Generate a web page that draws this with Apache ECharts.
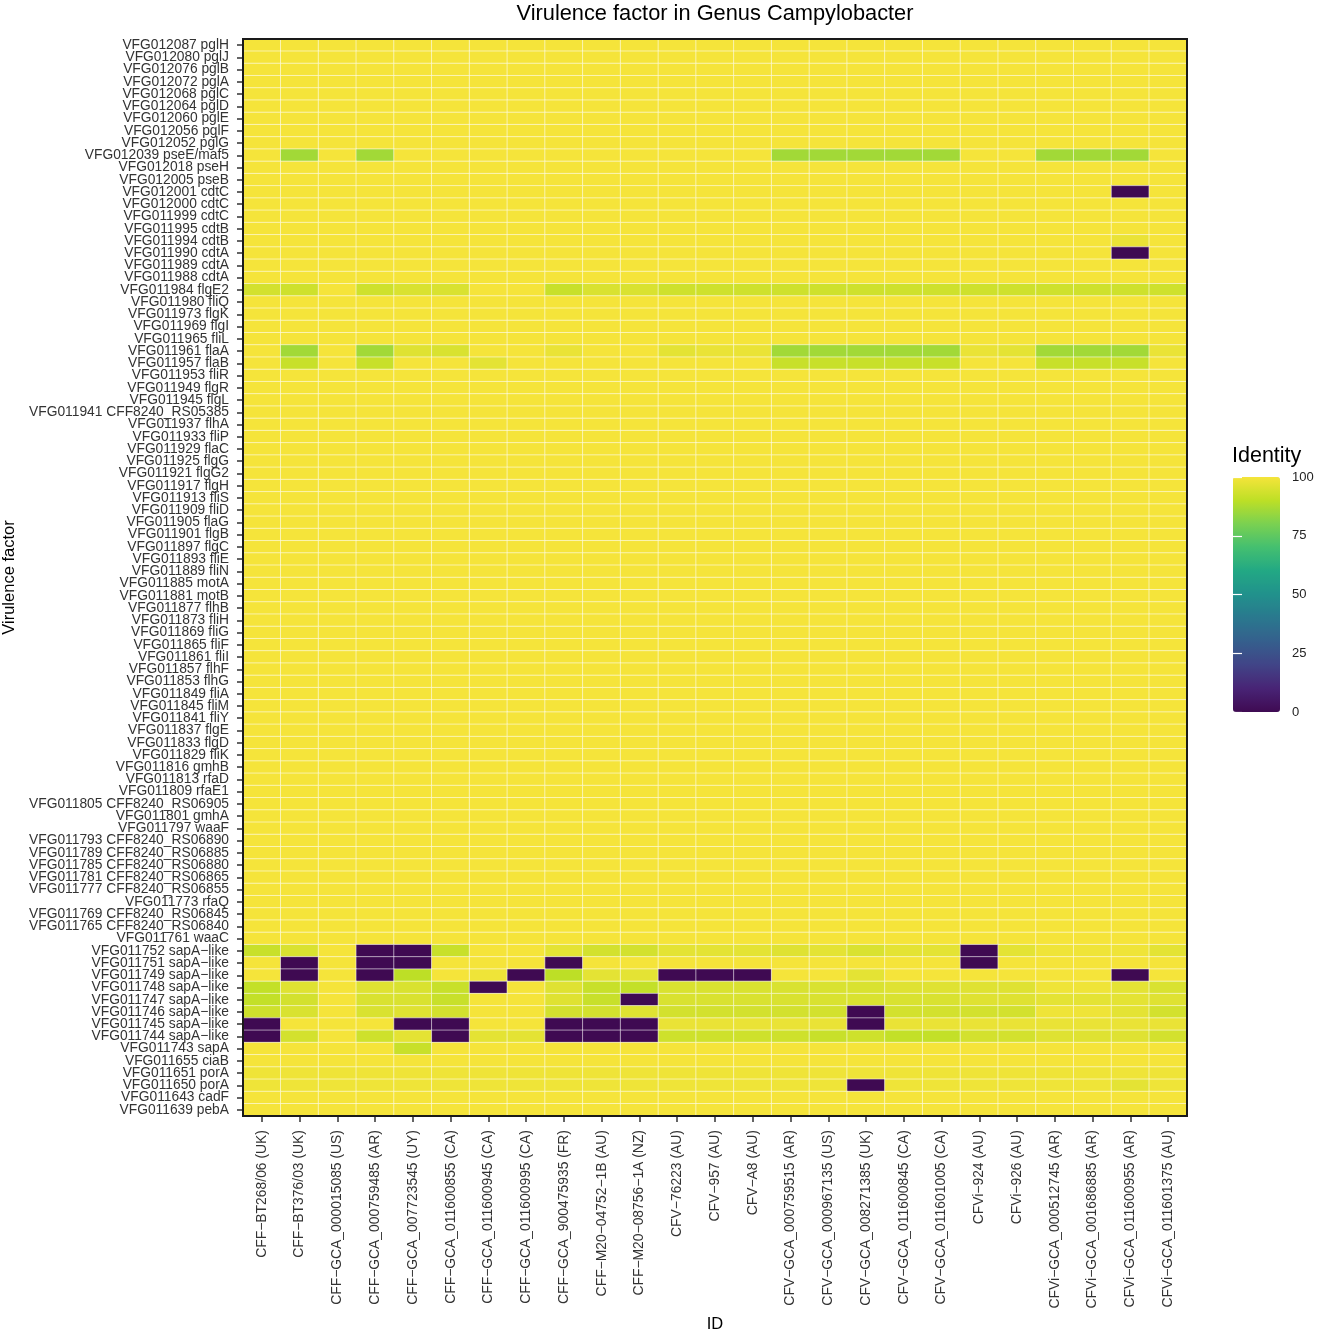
<!DOCTYPE html>
<html>
<head>
<meta charset="utf-8">
<title>Virulence factor in Genus Campylobacter</title>
<script src="https://cdn.jsdelivr.net/npm/echarts@6/dist/echarts.min.js"></script>
<style>
html, body { margin: 0; padding: 0; background: #fff; }
#chart { width: 1318px; height: 1330px; }
</style>
</head>
<body>
<div id="chart"></div>
<script>
// genomes on the x axis
var ids = [
    'CFF−BT268/06 (UK)', 'CFF−BT376/03 (UK)', 'CFF−GCA_000015085 (US)', 'CFF−GCA_000759485 (AR)',
    'CFF−GCA_007723545 (UY)', 'CFF−GCA_011600855 (CA)', 'CFF−GCA_011600945 (CA)', 'CFF−GCA_011600995 (CA)',
    'CFF−GCA_900475935 (FR)', 'CFF−M20−04752−1B (AU)', 'CFF−M20−08756−1A (NZ)', 'CFV−76223 (AU)',
    'CFV−957 (AU)', 'CFV−A8 (AU)', 'CFV−GCA_000759515 (AR)', 'CFV−GCA_000967135 (US)',
    'CFV−GCA_008271385 (UK)', 'CFV−GCA_011600845 (CA)', 'CFV−GCA_011601005 (CA)', 'CFVi−924 (AU)',
    'CFVi−926 (AU)', 'CFVi−GCA_000512745 (AR)', 'CFVi−GCA_001686885 (AR)', 'CFVi−GCA_011600955 (AR)',
    'CFVi−GCA_011601375 (AU)'
]

// virulence factors, top to bottom
var factors = [
    'VFG012087 pglH', 'VFG012080 pglJ', 'VFG012076 pglB', 'VFG012072 pglA', 'VFG012068 pglC',
    'VFG012064 pglD', 'VFG012060 pglE', 'VFG012056 pglF', 'VFG012052 pglG',
    'VFG012039 pseE/maf5', 'VFG012018 pseH', 'VFG012005 pseB',
    'VFG012001 cdtC', 'VFG012000 cdtC', 'VFG011999 cdtC', 'VFG011995 cdtB', 'VFG011994 cdtB',
    'VFG011990 cdtA', 'VFG011989 cdtA', 'VFG011988 cdtA',
    'VFG011984 flgE2', 'VFG011980 fliQ', 'VFG011973 flgK', 'VFG011969 flgI', 'VFG011965 fliL',
    'VFG011961 flaA', 'VFG011957 flaB', 'VFG011953 fliR', 'VFG011949 flgR', 'VFG011945 flgL',
    'VFG011941 CFF8240_RS05385', 'VFG011937 flhA', 'VFG011933 fliP', 'VFG011929 flaC', 'VFG011925 flgG',
    'VFG011921 flgG2', 'VFG011917 flgH', 'VFG011913 fliS', 'VFG011909 fliD', 'VFG011905 flaG',
    'VFG011901 flgB', 'VFG011897 flgC', 'VFG011893 fliE', 'VFG011889 fliN', 'VFG011885 motA',
    'VFG011881 motB', 'VFG011877 flhB', 'VFG011873 fliH', 'VFG011869 fliG', 'VFG011865 fliF',
    'VFG011861 fliI', 'VFG011857 flhF', 'VFG011853 flhG', 'VFG011849 fliA', 'VFG011845 fliM',
    'VFG011841 fliY', 'VFG011837 flgE', 'VFG011833 flgD', 'VFG011829 fliK',
    'VFG011816 gmhB', 'VFG011813 rfaD', 'VFG011809 rfaE1', 'VFG011805 CFF8240_RS06905', 'VFG011801 gmhA',
    'VFG011797 waaF', 'VFG011793 CFF8240_RS06890', 'VFG011789 CFF8240_RS06885', 'VFG011785 CFF8240_RS06880',
    'VFG011781 CFF8240_RS06865', 'VFG011777 CFF8240_RS06855', 'VFG011773 rfaQ', 'VFG011769 CFF8240_RS06845',
    'VFG011765 CFF8240_RS06840', 'VFG011761 waaC',
    'VFG011752 sapA−like', 'VFG011751 sapA−like', 'VFG011749 sapA−like', 'VFG011748 sapA−like',
    'VFG011747 sapA−like', 'VFG011746 sapA−like', 'VFG011745 sapA−like', 'VFG011744 sapA−like',
    'VFG011743 sapA',
    'VFG011655 ciaB', 'VFG011651 porA', 'VFG011650 porA', 'VFG011643 cadF', 'VFG011639 pebA'
]

// identity (%) per factor row, one value per genome column
var identityPgl = [
    [100,100,100,100,100, 100,100,100,100,100, 100,100,100,100,100, 100,100,100,100,100, 100,100,100,100,100],
    [100,100,100,100,100, 100,100,100,100,100, 100,100,100,100,100, 100,100,100,100,100, 100,100,100,100,100],
    [100,100,100,100,100, 100,100,100,100,100, 100,100,100,100,100, 100,100,100,100,100, 100,100,100,100,100],
    [100,100,100,100,100, 100,100,100,100,100, 100,100,100,100,100, 100,100,100,100,100, 100,100,100,100,100],
    [100,100,100,100,100, 100,100,100,100,100, 100,100,100,100,100, 100,100,100,100,100, 100,100,100,100,100],
    [100,100,100,100,100, 100,100,100,100,100, 100,100,100,100,100, 100,100,100,100,100, 100,100,100,100,100],
    [100,100,100,100,100, 100,100,100,100,100, 100,100,100,100,100, 100,100,100,100,100, 100,100,100,100,100],
    [100,100,100,100,100, 100,100,100,100,100, 100,100,100,100,100, 100,100,100,100,100, 100,100,100,100,100],
    [100,100,100,100,100, 100,100,100,100,100, 100,100,100,100,100, 100,100,100,100,100, 100,100,100,100,100]
]
var identityPse = [
    [100,86,100,86,100, 100,100,100,100,100, 100,100,100,100,86, 86,86,86,86,100, 100,86,86,86,100],
    [100,100,100,100,100, 100,100,100,100,100, 100,100,100,100,100, 100,100,100,100,100, 100,100,100,100,100],
    [100,100,100,100,100, 100,100,100,100,100, 100,100,100,100,100, 100,100,100,100,100, 100,100,100,100,100]
]
var identityCdt = [
    [100,100,100,100,100, 100,100,100,100,100, 100,100,100,100,100, 100,100,100,100,100, 100,100,100,0,100],
    [100,100,100,100,100, 100,100,100,100,100, 100,100,100,100,100, 100,100,100,100,100, 100,100,100,100,100],
    [100,100,100,100,100, 100,100,100,100,100, 100,100,100,100,100, 100,100,100,100,100, 100,100,100,100,100],
    [100,100,100,100,100, 100,100,100,100,100, 100,100,100,100,100, 100,100,100,100,100, 100,100,100,100,100],
    [100,100,100,100,100, 100,100,100,100,100, 100,100,100,100,100, 100,100,100,100,100, 100,100,100,98,100],
    [100,100,100,100,100, 100,100,100,100,100, 100,100,100,100,100, 100,100,100,100,100, 100,100,100,0,100],
    [100,100,100,100,100, 100,100,100,100,100, 100,100,100,100,100, 100,100,100,100,100, 100,100,100,100,100],
    [100,100,100,100,100, 100,100,100,100,100, 100,100,100,100,100, 100,100,100,100,100, 100,100,100,100,100]
]
var identityFlagella = [
    [94,93,100,93,95, 95,100,100,92,95, 95,93,93,93,93, 93,93,93,93,93, 93,93,93,93,93],
    [100,100,100,100,100, 100,100,100,100,100, 100,100,100,100,100, 100,100,100,100,100, 100,100,100,100,100],
    [100,100,100,100,100, 100,100,100,100,100, 100,100,100,100,100, 100,100,100,100,100, 100,100,100,100,100],
    [100,100,100,100,100, 100,100,100,100,100, 100,100,100,100,100, 100,100,100,100,100, 100,100,100,100,100],
    [100,100,100,100,100, 100,100,100,100,100, 100,100,100,100,100, 100,100,100,100,100, 100,100,100,100,100],
    [100,86,100,86,96, 95,100,100,98,100, 100,97,98,98,86, 86,86,86,86,98, 97,86,86,86,98],
    [100,92,100,92,100, 100,97,100,100,100, 100,100,100,100,92, 92,92,92,92,100, 100,92,92,92,100],
    [100,100,100,100,100, 100,100,100,100,100, 100,100,100,100,100, 100,100,100,100,100, 100,100,100,100,100],
    [100,100,100,100,100, 100,100,100,100,100, 100,100,100,100,100, 100,100,100,100,100, 100,100,100,100,100],
    [100,100,100,100,100, 100,100,100,100,100, 100,100,100,100,100, 100,100,100,100,100, 100,100,100,100,100],
    [100,100,100,100,100, 100,100,100,100,100, 100,100,100,100,100, 100,100,100,100,100, 100,100,100,100,100],
    [100,100,100,100,100, 100,100,100,100,100, 100,100,100,100,100, 100,100,100,100,100, 100,100,100,100,100],
    [100,100,100,100,100, 100,100,100,100,100, 100,100,100,100,100, 100,100,100,100,100, 100,100,100,100,100],
    [100,100,100,100,100, 100,100,100,100,100, 100,100,100,100,100, 100,100,100,100,100, 100,100,100,100,100],
    [100,100,100,100,100, 100,100,100,100,100, 100,100,100,100,100, 100,100,100,100,100, 100,100,100,100,100],
    [100,100,100,100,100, 100,100,100,100,100, 100,100,100,100,100, 100,100,100,100,100, 100,100,100,100,100],
    [100,100,100,100,100, 100,100,100,100,100, 100,100,100,100,100, 100,100,100,100,100, 100,100,100,100,100],
    [100,100,100,100,100, 100,100,100,100,100, 100,100,100,100,100, 100,100,100,100,100, 100,100,100,100,100],
    [100,100,100,100,100, 100,100,100,100,100, 100,100,100,100,100, 100,100,100,100,100, 100,100,100,100,100],
    [100,100,100,100,100, 100,100,100,100,100, 100,100,100,100,100, 100,100,100,100,100, 100,100,100,100,100],
    [100,100,100,100,100, 100,100,100,100,100, 100,100,100,100,100, 100,100,100,100,100, 100,100,100,100,100],
    [100,100,100,100,100, 100,100,100,100,100, 100,100,100,100,100, 100,100,100,100,100, 100,100,100,100,100],
    [100,100,100,100,100, 100,100,100,100,100, 100,100,100,100,100, 100,100,100,100,100, 100,100,100,100,100],
    [100,100,100,100,100, 100,100,100,100,100, 100,100,100,100,100, 100,100,100,100,100, 100,100,100,100,100],
    [100,100,100,100,100, 100,100,100,100,100, 100,100,100,100,100, 100,100,100,100,100, 100,100,100,100,100],
    [100,100,100,100,100, 100,100,100,100,100, 100,100,100,100,100, 100,100,100,100,100, 100,100,100,100,100],
    [100,100,100,100,100, 100,100,100,100,100, 100,100,100,100,100, 100,100,100,100,100, 100,100,100,100,100],
    [100,100,100,100,100, 100,100,100,100,100, 100,100,100,100,100, 100,100,100,100,100, 100,100,100,100,100],
    [100,100,100,100,100, 100,100,100,100,100, 100,100,100,100,100, 100,100,100,100,100, 100,100,100,100,100],
    [100,100,100,100,100, 100,100,100,100,100, 100,100,100,100,100, 100,100,100,100,100, 100,100,100,100,100],
    [100,100,100,100,100, 100,100,100,100,100, 100,100,100,100,100, 100,100,100,100,100, 100,100,100,100,100],
    [100,100,100,100,100, 100,100,100,100,100, 100,100,100,100,100, 100,100,100,100,100, 100,100,100,100,100],
    [100,100,100,100,100, 100,100,100,100,100, 100,100,100,100,100, 100,100,100,100,100, 100,100,100,100,100],
    [100,100,100,100,100, 100,100,100,100,100, 100,100,100,100,100, 100,100,100,100,100, 100,100,100,100,100],
    [100,100,100,100,100, 100,100,100,100,100, 100,100,100,100,100, 100,100,100,100,100, 100,100,100,100,100],
    [100,100,100,100,100, 100,100,100,100,100, 100,100,100,100,100, 100,100,100,100,100, 100,100,100,100,100],
    [100,100,100,100,100, 100,100,100,100,100, 100,100,100,100,100, 100,100,100,100,100, 100,100,100,100,100],
    [100,100,100,100,100, 100,100,100,100,100, 100,100,100,100,100, 100,100,100,100,100, 100,100,100,100,100],
    [100,100,100,100,100, 100,100,100,100,100, 100,100,100,100,100, 100,100,100,100,100, 100,100,100,100,100]
]
var identityLos = [
    [100,100,100,100,100, 100,100,100,100,100, 100,100,100,100,100, 100,100,100,100,100, 100,100,100,100,100],
    [100,100,100,100,100, 100,100,100,100,100, 100,100,100,100,100, 100,100,100,100,100, 100,100,100,100,100],
    [100,100,100,100,100, 100,100,100,100,100, 100,100,100,100,100, 100,100,100,100,100, 100,100,100,100,100],
    [100,100,100,100,100, 100,100,100,100,100, 100,100,100,100,100, 100,100,100,100,100, 100,100,100,100,100],
    [100,100,100,100,100, 100,100,100,100,100, 100,100,100,100,100, 100,100,100,100,100, 100,100,100,100,100],
    [100,100,100,100,100, 100,100,100,100,100, 100,100,100,100,100, 100,100,100,100,100, 100,100,100,100,100],
    [100,100,100,100,100, 100,100,100,100,100, 100,100,100,100,100, 100,100,100,100,100, 100,100,100,100,100],
    [100,100,100,100,100, 100,100,100,100,100, 100,100,100,100,100, 100,100,100,100,100, 100,100,100,100,100],
    [100,100,100,100,100, 100,100,100,100,100, 100,100,100,100,100, 100,100,100,100,100, 100,100,100,100,100],
    [100,100,100,100,100, 100,100,100,100,100, 100,100,100,100,100, 100,100,100,100,100, 100,100,100,100,100],
    [100,100,100,100,100, 100,100,100,100,100, 100,100,100,100,100, 100,100,100,100,100, 100,100,100,100,100],
    [100,100,100,100,100, 100,100,100,100,100, 100,100,100,100,100, 100,100,100,100,100, 100,100,100,100,100],
    [100,100,100,100,100, 100,100,100,100,100, 100,100,100,100,100, 100,100,100,100,100, 100,100,100,100,100],
    [100,100,100,100,100, 100,100,100,100,100, 100,100,100,100,100, 100,100,100,100,100, 100,100,100,100,100],
    [100,100,100,100,100, 100,100,100,100,100, 100,100,100,100,100, 100,100,100,100,100, 100,100,100,100,100]
]
var identitySap = [
    [92,95,100,0,0, 92,100,100,97,94, 94,97,97,97,96, 97,95,97,97,0, 97,99,99,99,97],
    [100,0,100,0,0, 100,100,100,0,100, 100,100,100,100,100, 100,100,100,100,0, 100,100,100,100,100],
    [100,0,100,0,90, 100,99,0,90,97, 97,0,0,0,100, 100,97,100,100,100, 100,100,100,0,100],
    [91,96,100,96,95, 92,0,100,96,92, 91,95,95,95,95, 95,95,96,96,96, 96,99,99,97,95],
    [91,94,100,95,95, 92,100,100,96,92, 0,95,95,95,95, 95,95,95,95,96, 96,97,97,97,96],
    [93,95,100,95,96, 94,100,100,94,94, 96,94,94,94,94, 94,0,94,94,94, 94,99,99,97,94],
    [0,100,100,100,0, 0,100,100,0,0, 0,98,98,98,98, 98,0,98,98,98, 98,98,98,98,98],
    [0,94,100,93,97, 0,97,97,0,0, 0,93,93,93,93, 92,93,91,91,94, 94,96,96,96,94],
    [100,100,100,100,92, 100,100,100,100,100, 100,100,100,100,100, 100,100,100,100,100, 100,100,100,100,100]
]
var identityOther = [
    [100,100,100,100,100, 100,100,100,100,100, 100,100,100,100,100, 100,100,100,100,100, 100,100,100,100,100],
    [99,99,99,99,99, 99,99,99,99,99, 99,99,99,99,99, 99,99,99,99,99, 99,99,99,99,99],
    [99,99,99,99,99, 99,99,99,99,99, 99,99,99,99,99, 99,0,99,99,99, 99,99,99,97,99],
    [100,100,100,100,100, 100,100,100,100,100, 100,100,100,100,100, 100,100,100,100,100, 100,100,100,100,100],
    [100,100,100,100,100, 100,100,100,100,100, 100,100,100,100,100, 100,100,100,100,100, 100,100,100,100,100]
]

// colour bar range and breaks
var identityMin = 0
var identityMax = 100
var identityStep = 25

var viridis = ['#3f0a52', '#482475', '#414487', '#355f8d', '#2a788e', '#21918c',
    '#22a884', '#44bf70', '#7ad151', '#bddf26', '#f5e43a']

var FONT = '"Liberation Sans", Arial, Helvetica, sans-serif'

var identity = identityPgl.concat( identityPse, identityCdt, identityFlagella, identityLos, identitySap, identityOther )
var cells = []
for ( var r = 0; r < identity.length; r++ ) {
    for ( var c = 0; c < identity[r].length; c++ ) {
        cells.push( [c, r, identity[r][c]] )
    }
}

var chart = echarts.init( document.getElementById( 'chart' ), null, { renderer: 'canvas' } )
chart.setOption( {
    animation: false,
    backgroundColor: '#ffffff',
    title: [{
        text: 'Virulence factor in Genus Campylobacter',
        left: 715,
        top: 3,
        textAlign: 'center',
        padding: 0,
        textStyle: { fontFamily: FONT, fontSize: 21.8, fontWeight: 'normal', color: '#000' }
    }, {
        text: 'Identity',
        left: 1232,
        top: 445,
        padding: 0,
        textStyle: { fontFamily: FONT, fontSize: 21.5, fontWeight: 'normal', color: '#000' }
    }],
    grid: [{
        left: 243, right: 131, top: 39, bottom: 214,
        containLabel: false,
        outerBoundsMode: 'none',
        show: true,
        z: 3,
        backgroundColor: 'transparent',
        borderColor: '#1a1a1a',
        borderWidth: 2
    }, {
        left: 1233, top: 477, width: 47, height: 235,
        outerBoundsMode: 'none',
        show: false
    }],
    xAxis: [{
        type: 'category',
        gridIndex: 0,
        data: ids,
        name: 'ID',
        nameLocation: 'middle',
        nameGap: 198,
        nameTextStyle: { fontFamily: FONT, fontSize: 16.5, color: '#000' },
        axisLine: { show: false },
        axisTick: { show: true, alignWithLabel: true, length: 6, lineStyle: { color: '#333', width: 1.5 } },
        axisLabel: { interval: 0, rotate: 90, margin: 14, fontFamily: FONT, fontSize: 13.9, color: '#333' },
        splitLine: { show: false }
    }, {
        type: 'value',
        gridIndex: 1,
        show: false,
        min: 0,
        max: 1
    }],
    yAxis: [{
        type: 'category',
        gridIndex: 0,
        data: factors,
        inverse: true,
        name: 'Virulence factor',
        nameLocation: 'middle',
        nameGap: 225,
        nameTextStyle: { fontFamily: FONT, fontSize: 16.5, color: '#000' },
        axisLine: { show: false },
        axisTick: { show: true, alignWithLabel: true, length: 6, lineStyle: { color: '#333', width: 1.5 } },
        axisLabel: { interval: 0, margin: 14, fontFamily: FONT, fontSize: 13.8, color: '#333' },
        splitLine: { show: false }
    }, {
        type: 'value',
        gridIndex: 1,
        position: 'right',
        min: identityMin,
        max: identityMax,
        interval: identityStep,
        z: 10,
        axisLine: { show: false },
        axisTick: { show: true, inside: true, length: 9, lineStyle: { color: '#fff', width: 1.2 } },
        axisLabel: { margin: 12, showMinLabel: true, showMaxLabel: true, fontFamily: FONT, fontSize: 13, color: '#222' },
        splitLine: { show: false }
    }, {
        type: 'value',
        gridIndex: 1,
        position: 'left',
        min: identityMin,
        max: identityMax,
        interval: identityStep,
        z: 10,
        axisLine: { show: false },
        axisTick: { show: true, inside: true, length: 9, lineStyle: { color: '#fff', width: 1.2 } },
        axisLabel: { show: false },
        splitLine: { show: false }
    }],
    visualMap: {
        type: 'continuous',
        seriesIndex: 0,
        min: identityMin,
        max: identityMax,
        orient: 'vertical',
        left: 1233,
        top: 477,
        padding: 0,
        itemWidth: 47,
        itemHeight: 235,
        calculable: false,
        hoverLink: false,
        inRange: { color: viridis }
    },
    series: [{
        type: 'heatmap',
        xAxisIndex: 0,
        yAxisIndex: 0,
        data: cells,
        progressive: 0,
        itemStyle: { borderColor: 'rgba(255,255,255,0.55)', borderWidth: 1 },
        emphasis: { disabled: true }
    }, {
        type: 'line',
        xAxisIndex: 1,
        yAxisIndex: 1,
        data: [],
        silent: true
    }]
} )
</script>
</body>
</html>
